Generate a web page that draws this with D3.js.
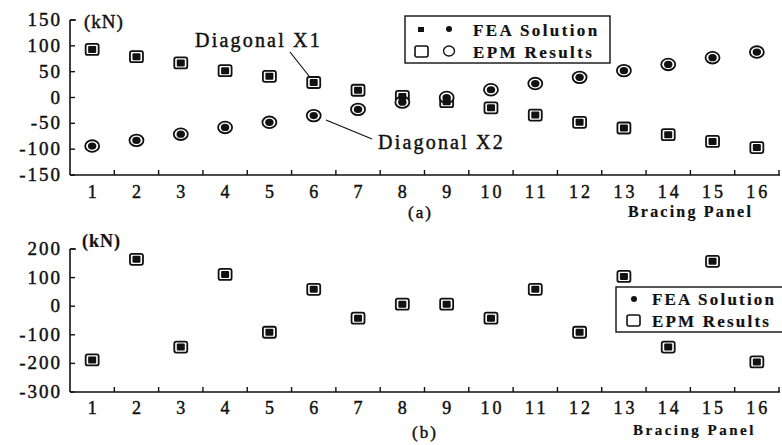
<!DOCTYPE html>
<html>
<head>
<meta charset="utf-8">
<script src="https://cdn.jsdelivr.net/npm/d3@7"></script>
<style>
html,body{margin:0;padding:0;background:#fff;}
svg{display:block;}
text{font-family:"Liberation Serif","Times New Roman",serif;fill:#111;stroke:#111;stroke-width:0.45px;}
</style>
</head>
<body>
<svg id="chart" width="782" height="445"></svg>
<script>
// ---------- data ----------
const panels = ["1","2","3","4","5","6","7","8","9","10","11","12","13","14","15","16"];
// (a) Diagonal X1 / X2 forces (kN)
const x1FEA = [93, 79, 67, 52, 41, 29, 14, 2, -8, -20, -34, -48, -59, -72, -85, -97];
const x1EPM = [93, 79, 67, 52, 41, 29, 14, 2, -8, -20, -34, -48, -59, -72, -85, -97];
const x2FEA = [-94, -83, -71, -58, -48, -35, -23, -9, 0, 15, 27, 39, 52, 64, 77, 88];
const x2EPM = [-94, -83, -71, -58, -48, -35, -23, -9, 0, 15, 27, 39, 52, 64, 77, 88];
// (b) forces (kN)
const bFEA = [-188, 164, -143, 111, -91, 59, -42, 7, 7, -42, 59, -91, 104, -143, 157, -195];
const bEPM = [-188, 164, -143, 111, -91, 59, -42, 7, 7, -42, 59, -91, 104, -143, 157, -195];
const ticksA = [-150, -100, -50, 0, 50, 100, 150];
const ticksB = [-300, -200, -100, 0, 100, 200];

const svg = d3.select("#chart");
const x = d3.scaleBand().domain(panels).range([70, 779]);
const yA = d3.scaleLinear().domain([-150, 150]).range([175, 20]);
const yB = d3.scaleLinear().domain([-300, 200]).range([392, 249]);

function drawAxes(y, ticks, bottomY, topY, labelY) {
  const g = svg.append("g");
  g.append("line").attr("x1", 70).attr("x2", 70).attr("y1", topY).attr("y2", bottomY)
    .attr("stroke", "#111").attr("stroke-width", 1.6);
  g.append("line").attr("x1", 70).attr("x2", 780).attr("y1", bottomY).attr("y2", bottomY)
    .attr("stroke", "#111").attr("stroke-width", 1.6);
  g.selectAll(".yt").data(ticks).enter().append("line")
    .attr("x1", 70).attr("x2", 75).attr("y1", d => y(d)).attr("y2", d => y(d))
    .attr("stroke", "#111").attr("stroke-width", 1.4);
  g.selectAll(".yl").data(ticks).enter().append("text")
    .attr("x", 62).attr("y", d => y(d) + 6)
    .attr("text-anchor", "end")
    .style("font-size", "19px").style("letter-spacing", "2px")
    .text(d => d);
  const bounds = panels.slice(1).map(p => x(p)).concat([779]);
  g.selectAll(".xt").data(bounds).enter().append("line")
    .attr("x1", d => d).attr("x2", d => d).attr("y1", bottomY).attr("y2", bottomY - 5)
    .attr("stroke", "#111").attr("stroke-width", 1.4);
  g.selectAll(".xl").data(panels).enter().append("text")
    .attr("x", d => x(d) + x.bandwidth() / 2 + 1.5).attr("y", labelY)
    .attr("text-anchor", "middle")
    .style("font-size", "18px").style("letter-spacing", "3px")
    .text(d => d);
}

function squares(vals, y, filled) {
  svg.append("g").selectAll("rect").data(vals).enter().append("rect")
    .attr("x", (d, i) => x(panels[i]) + x.bandwidth() / 2 - (filled ? 4 : 6.5))
    .attr("y", d => y(d) - (filled ? 3.5 : 5.5))
    .attr("width", filled ? 8 : 13).attr("height", filled ? 7 : 11)
    .attr("rx", filled ? 1 : 2)
    .attr("fill", filled ? "#111" : "#fff")
    .attr("stroke", "#111").attr("stroke-width", filled ? 0 : 1.8);
}
function circles(vals, y, filled) {
  svg.append("g").selectAll("ellipse").data(vals).enter().append("ellipse")
    .attr("cx", (d, i) => x(panels[i]) + x.bandwidth() / 2)
    .attr("cy", d => y(d))
    .attr("rx", filled ? 4.2 : 7).attr("ry", filled ? 3.6 : 5.8)
    .attr("fill", filled ? "#111" : "#fff")
    .attr("stroke", "#111").attr("stroke-width", filled ? 0 : 1.8);
}

// ---------- panel (a) ----------
drawAxes(yA, ticksA, 175, 20, 198);
svg.append("line").attr("x1", 70).attr("x2", 76).attr("y1", 20).attr("y2", 20).attr("stroke", "#111").attr("stroke-width", 1.4);
svg.append("text").attr("x", 84).attr("y", 28).style("font-size", "19px").style("letter-spacing", "1px").text("(kN)");

squares(x1EPM, yA, false);
circles(x2EPM, yA, false);
squares(x1FEA, yA, true);
circles(x2FEA, yA, true);

// annotations
svg.append("text").attr("x", 195).attr("y", 47).style("font-size", "20px").style("letter-spacing", "2.2px").text("Diagonal X1");
svg.append("line").attr("x1", 290).attr("y1", 52).attr("x2", 309).attr("y2", 76).attr("stroke", "#111").attr("stroke-width", 1.2);
svg.append("text").attr("x", 378).attr("y", 149).style("font-size", "20px").style("letter-spacing", "2.2px").text("Diagonal X2");
svg.append("line").attr("x1", 326).attr("y1", 120).attr("x2", 372).attr("y2", 139).attr("stroke", "#111").attr("stroke-width", 1.2);

// legend (a)
const la = svg.append("g");
la.append("rect").attr("x", 405).attr("y", 16).attr("width", 205).attr("height", 47)
  .attr("fill", "#fff").attr("stroke", "#111").attr("stroke-width", 1.4);
la.append("rect").attr("x", 418).attr("y", 27).attr("width", 6).attr("height", 5).attr("fill", "#111");
la.append("ellipse").attr("cx", 449).attr("cy", 29).attr("rx", 3).attr("ry", 3).attr("fill", "#111");
la.append("rect").attr("x", 415).attr("y", 46).attr("width", 13).attr("height", 11).attr("rx", 2)
  .attr("fill", "#fff").attr("stroke", "#111").attr("stroke-width", 1.6);
la.append("ellipse").attr("cx", 449).attr("cy", 51).attr("rx", 5.5).attr("ry", 5).attr("fill", "#fff").attr("stroke", "#111").attr("stroke-width", 1.4);
la.append("text").attr("x", 473).attr("y", 36).style("font-size", "17px").style("font-weight", "bold").style("letter-spacing", "2.4px").style("stroke-width", "0.2px").text("FEA Solution");
la.append("text").attr("x", 473).attr("y", 58).style("font-size", "17px").style("font-weight", "bold").style("letter-spacing", "2.4px").style("stroke-width", "0.2px").text("EPM Results");

svg.append("text").attr("x", 408).attr("y", 218).style("font-size", "17px").style("letter-spacing", "2px").text("(a)");
svg.append("text").attr("x", 628).attr("y", 217).style("font-size", "16px").style("font-weight", "bold").style("letter-spacing", "2.2px").style("stroke-width", "0.2px").text("Bracing Panel");

// ---------- panel (b) ----------
drawAxes(yB, ticksB, 392, 249, 414);
svg.append("line").attr("x1", 70).attr("x2", 76).attr("y1", 249).attr("y2", 249).attr("stroke", "#111").attr("stroke-width", 1.4);
svg.append("text").attr("x", 82).attr("y", 247).style("font-size", "18px").style("font-weight", "bold").style("letter-spacing", "1px").style("stroke-width", "0.2px").text("(kN)");

squares(bEPM, yB, false);
squares(bFEA, yB, true);

// legend (b)
const lb = svg.append("g");
lb.append("rect").attr("x", 616).attr("y", 287).attr("width", 170).attr("height", 45)
  .attr("fill", "#fff").attr("stroke", "#111").attr("stroke-width", 1.4);
lb.append("ellipse").attr("cx", 634).attr("cy", 299).attr("rx", 3).attr("ry", 3).attr("fill", "#111");
lb.append("rect").attr("x", 627).attr("y", 315).attr("width", 13).attr("height", 11).attr("rx", 2)
  .attr("fill", "#fff").attr("stroke", "#111").attr("stroke-width", 1.6);
lb.append("text").attr("x", 652).attr("y", 305).style("font-size", "17px").style("font-weight", "bold").style("letter-spacing", "2.2px").style("stroke-width", "0.2px").text("FEA Solution");
lb.append("text").attr("x", 652).attr("y", 327).style("font-size", "17px").style("font-weight", "bold").style("letter-spacing", "2.2px").style("stroke-width", "0.2px").text("EPM Results");

svg.append("text").attr("x", 412).attr("y", 438).style("font-size", "17px").style("letter-spacing", "2px").text("(b)");
svg.append("text").attr("x", 633).attr("y", 435).style("font-size", "15px").style("font-weight", "bold").style("letter-spacing", "2.5px").style("stroke-width", "0.2px").text("Bracing Panel");
</script>
</body>
</html>
